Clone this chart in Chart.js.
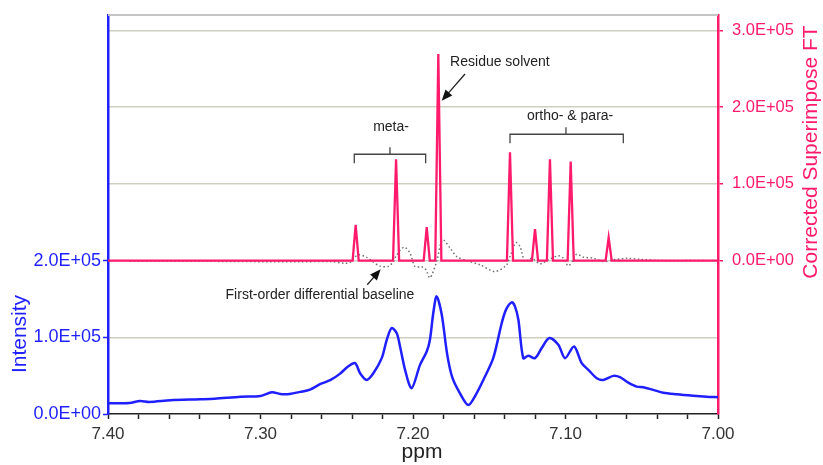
<!DOCTYPE html>
<html>
<head>
<meta charset="utf-8">
<title>1H NMR aromatic region</title>
<script src="https://cdn.jsdelivr.net/npm/chart.js@4.4.1/dist/chart.umd.min.js"></script>
<style>
  html, body { margin: 0; padding: 0; background: #fff; }
  #wrap { width: 823px; height: 465px; }
</style>
</head>
<body>
<div id="wrap"><canvas id="nmr" width="823" height="465"></canvas></div>
<script>
// measured spectrum (left axis, Intensity)
const rawPpm = [7.400, 7.386, 7.379, 7.373, 7.359, 7.340, 7.330, 7.313, 7.300, 7.2925,
  7.287, 7.281, 7.274, 7.2675, 7.261, 7.254, 7.248, 7.2426, 7.238, 7.2347,
  7.2304, 7.226, 7.2205, 7.2172, 7.214, 7.2107, 7.2085, 7.2052, 7.2009, 7.1954,
  7.191, 7.1889, 7.1867, 7.1845, 7.1812, 7.1776, 7.1743, 7.1692, 7.1637, 7.1583,
  7.1539, 7.1474, 7.1418, 7.139, 7.1353, 7.1331, 7.1309, 7.1277, 7.1244, 7.120,
  7.1156, 7.1106, 7.1047, 7.1003, 7.0944, 7.0894, 7.085, 7.0795, 7.0752, 7.0686,
  7.0643, 7.0588, 7.0533, 7.049, 7.0424, 7.0359, 7.0271, 7.0162, 7.0074, 7.000];
const rawInt = [14000, 14400, 17000, 15700, 17900, 19200, 20000, 22600, 23500, 28400,
  26100, 26100, 28800, 31800, 38800, 44400, 52300, 61800, 66300, 53200,
  44400, 53200, 72800, 96700, 112000, 105500, 88000, 57500, 33600, 64000,
  81400, 96700, 131600, 153300, 130000, 78000, 48000, 27000, 11800, 27000,
  44400, 72800, 118600, 136000, 145500, 140000, 122900, 72800, 75800, 72800,
  85900, 99000, 90200, 72800, 88000, 66300, 57500, 46700, 44400, 49700,
  48000, 40900, 35700, 34900, 31400, 27800, 25800, 23900, 22600, 21800];

// corrected superimposed FT sticks (right axis)
const ftPpm = [7.40, 7.2396, 7.2376, 7.2356, 7.2131, 7.2111, 7.2091, 7.1930, 7.1910, 7.1890,
  7.1854, 7.1834, 7.1814, 7.1384, 7.1364, 7.1344, 7.1220, 7.1200, 7.1180, 7.1122,
  7.1102, 7.1082, 7.0986, 7.0966, 7.0946, 7.0737, 7.0717, 7.0697, 7.00];
const ftVal = [0, 0, 46500, 0, 0, 132000, 0, 0, 43500, 0,
  0, 269000, 0, 0, 141000, 0, 0, 41000, 0, 0,
  132000, 0, 0, 129000, 0, 0, 30000, 0, 0];

// first-order differential baseline (right axis)
const diffPpm = [7.3856, 7.3397, 7.2741, 7.2544, 7.2446, 7.2413, 7.2361, 7.2304, 7.2262, 7.2216,
  7.2162, 7.2129, 7.2107, 7.2059, 7.2020, 7.1987, 7.1943, 7.1915, 7.1889, 7.1845,
  7.1807, 7.1757, 7.1713, 7.1648, 7.1561, 7.1462, 7.1386, 7.1364, 7.1325, 7.1298,
  7.1266, 7.1222, 7.1167, 7.1113, 7.1047, 7.1014, 7.0982, 7.0949, 7.0927, 7.0883,
  7.0818, 7.0752, 7.0686, 7.0599, 7.0511, 7.0380, 7.0085];
const diffVal = [-1000, -1000, -1700, -1300, -3600, -2600, 7400, 4200, -1700, -7300,
  -7600, -1300, 7400, 17400, 10000, -7800, -8200, -12000, -22500, -1300,
  27000, 16500, 5200, 0, -5600, -14300, -5600, 5200, 23400, 18200,
  -1300, 3100, -4300, 900, 6100, 3100, -6900, 900, 8300, 4400,
  3100, -1300, 900, 2900, 1600, 0, 0];

const xTickLabels = ['7.40', '7.30', '7.20', '7.10', '7.00'];
const leftTicks = [0, 100000, 200000];
const rightTicks = [-200000, -100000, 0, 100000, 200000, 300000];

const BLUE = '#1f1fff';
const PINK = '#ff1a6c';
const FONT = 'Arial, "Liberation Sans", sans-serif';

// 1.0E+05 style labels
function sci(v) {
  const parts = v.toExponential(1).split('e');
  const n = parseInt(parts[1], 10);
  return parts[0] + 'E' + (n < 0 ? '-' : '+') + String(Math.abs(n)).padStart(2, '0');
}

function pairs(xs, ys) {
  return xs.map((x, i) => ({ x: x, y: ys[i] }));
}

function arrow(ctx, x1, y1, x2, y2) {
  const ang = Math.atan2(y2 - y1, x2 - x1);
  const len = 11, half = 4.5;
  ctx.beginPath();
  ctx.moveTo(x1, y1);
  ctx.lineTo(x2 - Math.cos(ang) * len * 0.8, y2 - Math.sin(ang) * len * 0.8);
  ctx.stroke();
  ctx.beginPath();
  ctx.moveTo(x2, y2);
  ctx.lineTo(x2 - Math.cos(ang) * len - Math.sin(ang) * half, y2 - Math.sin(ang) * len + Math.cos(ang) * half);
  ctx.lineTo(x2 - Math.cos(ang) * len + Math.sin(ang) * half, y2 - Math.sin(ang) * len - Math.cos(ang) * half);
  ctx.closePath();
  ctx.fill();
}

function bracket(ctx, x1, x2, xm, y) {
  ctx.beginPath();
  ctx.moveTo(x1, y + 9);
  ctx.lineTo(x1, y);
  ctx.lineTo(x2, y);
  ctx.lineTo(x2, y + 9);
  ctx.moveTo(xm, y);
  ctx.lineTo(xm, y - 7);
  ctx.stroke();
}

// vertical axes: fixed width, no extra label overflow padding
function fixY(width) {
  return s => {
    s.width = width;
    s.paddingTop = 0;
    s.paddingBottom = 0;
  };
}

// frame, axis titles and peak annotations
const decor = {
  id: 'decor',
  afterDraw(chart) {
    const { ctx, chartArea: a, scales } = chart;
    const px = v => scales.x.getPixelForValue(v);
    const py = v => scales.yR.getPixelForValue(v);
    ctx.save();

    ctx.strokeStyle = '#c4c4c4';
    ctx.lineWidth = 2;
    ctx.beginPath();
    ctx.moveTo(a.left, a.top);
    ctx.lineTo(a.right, a.top);
    ctx.stroke();

    ctx.textAlign = 'center';
    ctx.textBaseline = 'middle';
    ctx.font = '21px ' + FONT;
    ctx.fillStyle = '#222';
    ctx.fillText('ppm', 422, 452);

    ctx.save();
    ctx.translate(20, 334);
    ctx.rotate(-Math.PI / 2);
    ctx.fillStyle = BLUE;
    ctx.fillText('Intensity', 0, 0);
    ctx.restore();

    ctx.save();
    ctx.translate(811, 152);
    ctx.rotate(-Math.PI / 2);
    ctx.fillStyle = PINK;
    ctx.fillText('Corrected Superimpose FT', 0, 0);
    ctx.restore();

    ctx.font = '14px ' + FONT;
    ctx.fillStyle = '#222';
    ctx.strokeStyle = '#444';
    ctx.lineWidth = 1.3;
    ctx.fillText('Residue solvent', px(7.1430), py(258700));
    ctx.fillText('meta-', px(7.2144), py(174100));
    ctx.fillText('ortho- & para-', px(7.0970), py(188400));
    ctx.fillText('First-order differential baseline', px(7.2610), py(-44700));

    bracket(ctx, px(7.2385), px(7.1917), px(7.2151), py(138500));
    bracket(ctx, px(7.1364), px(7.0621), px(7.0997), py(164600));

    ctx.fillStyle = '#111';
    ctx.strokeStyle = '#222';
    arrow(ctx, px(7.1659), py(243100), px(7.1812), py(208300));
    arrow(ctx, px(7.2300), py(-31600), px(7.2212), py(-11200));
    ctx.restore();
  }
};

new Chart(document.getElementById('nmr'), {
  type: 'line',
  data: {
    datasets: [
      {
        label: 'Corrected Superimpose FT',
        data: pairs(ftPpm, ftVal),
        yAxisID: 'yR',
        borderColor: PINK,
        borderWidth: 2.3,
        pointRadius: 0,
        tension: 0
      },
      {
        label: 'First-order differential baseline',
        data: pairs(diffPpm, diffVal),
        yAxisID: 'yR',
        borderColor: '#707070',
        borderWidth: 1.5,
        borderDash: [1.5, 2.5],
        pointRadius: 0,
        tension: 0.3
      },
      {
        label: 'Intensity',
        data: pairs(rawPpm, rawInt),
        yAxisID: 'yL',
        borderColor: BLUE,
        borderWidth: 2.5,
        pointRadius: 0,
        tension: 0.3
      }
    ]
  },
  options: {
    responsive: false,
    animation: false,
    layout: { padding: { top: 15, left: 0, right: 0, bottom: 0 } },
    plugins: {
      legend: { display: false },
      tooltip: { enabled: false }
    },
    scales: {
      x: {
        type: 'linear',
        min: 7.0,
        max: 7.4,
        reverse: true,
        afterFit: s => { s.height = 51; },
        border: { color: '#222', width: 1.5 },
        grid: { drawOnChartArea: false, tickLength: 5, tickColor: '#222', tickWidth: 1.5 },
        ticks: {
          stepSize: 0.02,
          autoSkip: false,
          maxRotation: 0,
          padding: 5,
          color: '#333',
          font: { family: FONT, size: 17 },
          callback: v => {
            const s = v.toFixed(2);
            return xTickLabels.includes(s) && Math.abs(v * 10 - Math.round(v * 10)) < 1e-6 ? s : '';
          }
        }
      },
      yL: {
        type: 'linear',
        position: 'left',
        min: 0,
        max: 520000,
        afterBuildTicks: s => { s.ticks = leftTicks.map(v => ({ value: v })); },
        afterFit: fixY(108),
        border: { color: BLUE, width: 2.5 },
        grid: { drawOnChartArea: false, tickLength: 5, tickColor: BLUE, tickWidth: 1.5 },
        ticks: {
          padding: 2,
          color: BLUE,
          font: { family: FONT, size: 18 },
          callback: v => sci(v)
        }
      },
      yR: {
        type: 'linear',
        position: 'right',
        min: -200000,
        max: 320000,
        afterBuildTicks: s => { s.ticks = rightTicks.map(v => ({ value: v })); },
        afterFit: fixY(105),
        border: { color: PINK, width: 2.5 },
        grid: {
          color: c => (c.tick && c.tick.value < -150000) ? 'rgba(0,0,0,0)' : '#cfcfc1',
          lineWidth: 1.5,
          tickLength: 5,
          tickWidth: 1.5,
          tickColor: c => (c.tick && c.tick.value < 0) ? 'rgba(0,0,0,0)' : PINK
        },
        ticks: {
          padding: 9,
          color: PINK,
          font: { family: FONT, size: 16.5 },
          callback: v => v >= 0 ? sci(v) : ''
        }
      }
    }
  },
  plugins: [decor]
});
</script>
</body>
</html>
